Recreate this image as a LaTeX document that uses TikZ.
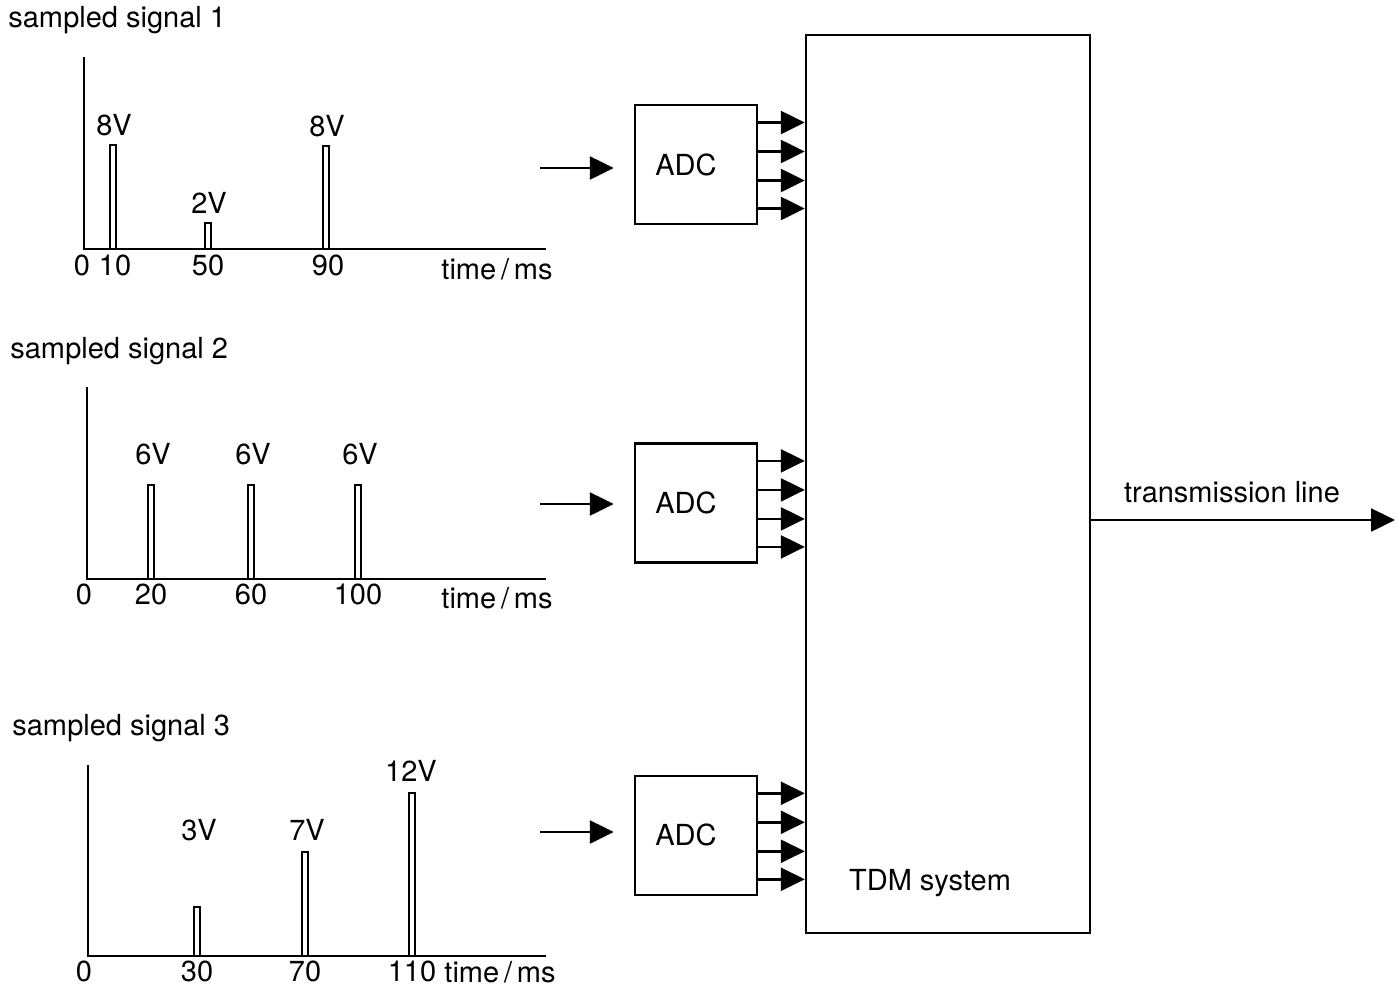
\documentclass[tikz,border=0pt]{standalone}
\usepackage{fontspec}
\setmainfont{TeX Gyre Heros}
\usetikzlibrary{positioning,arrows.meta,calc}
\newcommand\lblfont{\fontsize{16.5}{19}\selectfont}
\tikzset{
  lbl/.style={font=\lblfont, inner sep=1pt},
  sigtitle/.style={font=\lblfont, anchor=west, inner sep=0pt},
  axisline/.style={line width=1.4pt},
  pulse/.style={line width=1.5pt},
  adcbox/.style={draw, line width=1.4pt, font=\lblfont,
                 minimum width=2.44cm, minimum height=2.38cm},
  tdmbox/.style={draw, line width=1.4pt, minimum width=5.68cm,
                 minimum height=17.96cm},
  flow/.style={-{Triangle[length=0.48cm, width=0.46cm]}, line width=1.4pt},
}
\begin{document}
\begin{tikzpicture}[x=0.02cm, y=-0.02cm]
        \useasboundingbox (0,0) rectangle (1399,991);

        % signal 1
        \node[sigtitle] (sig1) at (8,20) {sampled signal 1};
        \draw[axisline] (84,57) -- (84,249) -- (546,249);
        \foreach \px/\ptop/\val in {113/145/8V, 208/223/2V, 326/146/8V} {
          \draw[pulse] (\px-3,249) rectangle (\px+3,\ptop);
          \node[lbl, anchor=south] at (\px+1,\ptop-7) {\val};
        }
        \foreach \px/\tk in {82/0, 115/10, 208/50, 328/90}
          \node[lbl, anchor=base] at (\px,275) {\tk};
        \node[lbl, anchor=base] (t1) at (497,279) {time\,/\,ms};

        % signal 2
        \node[sigtitle] (sig2) at (10,351) {sampled signal 2};
        \draw[axisline] (87,387) -- (87,579) -- (546,579);
        \foreach \px/\ptop/\val in {151/485/6V, 251/485/6V, 358/485/6V} {
          \draw[pulse] (\px-3,579) rectangle (\px+3,\ptop);
          \node[lbl, anchor=south] at (\px+2,\ptop-18) {\val};
        }
        \foreach \px/\tk in {84/0, 151/20, 251/60, 358/100}
          \node[lbl, anchor=base] at (\px,604) {\tk};
        \node[lbl, anchor=base] (t2) at (497,608) {time\,/\,ms};

        % signal 3
        \node[sigtitle] (sig3) at (12,728) {sampled signal 3};
        \draw[axisline] (88,765) -- (88,956) -- (546,956);
        \foreach \px/\ptop/\lx/\ly/\val in {197/907/199/843/3V, 305/852/307/843/7V, 412/793/411/784/12V} {
          \draw[pulse] (\px-3,956) rectangle (\px+3,\ptop);
          \node[lbl, anchor=south] at (\lx,\ly) {\val};
        }
        \foreach \px/\tk in {84/0, 197/30, 305/70, 412/110}
          \node[lbl, anchor=base] at (\px,981) {\tk};
        \node[lbl, anchor=base] (t3) at (500,982) {time\,/\,ms};

        % converters and multiplexer
        \node[adcbox] (adc1) at (696,164.5) {\hspace*{-0.4cm}ADC};
        \node[adcbox, below=4.34cm of adc1] (adc2) {\hspace*{-0.4cm}ADC};
        \node[adcbox, below=4.22cm of adc2] (adc3) {\hspace*{-0.4cm}ADC};
        \node[tdmbox] (tdm) at (948,484) {};
        \node[lbl] (tdmlbl) at (930,883) {TDM system};

        \foreach \k/\iy in {1/168, 2/504, 3/832} {
          \coordinate (in\k) at (540,\iy);
          \draw[flow] (in\k) -- ($(in\k -| adc\k.west)+(-20,0)$);
          \foreach \dy in {-42,-13,16,44}
            \draw[flow] ($(adc\k.east)+(0,\dy)$) -- ($(adc\k.east -| tdm.west)+(0,\dy)$);
        }

        \coordinate (tx) at (1395,520);
        \draw[flow] (tdm.east |- tx) -- (tx);
        \node[lbl] (txlbl) at (1232,492) {transmission line};
      \end{tikzpicture}
\end{document}
